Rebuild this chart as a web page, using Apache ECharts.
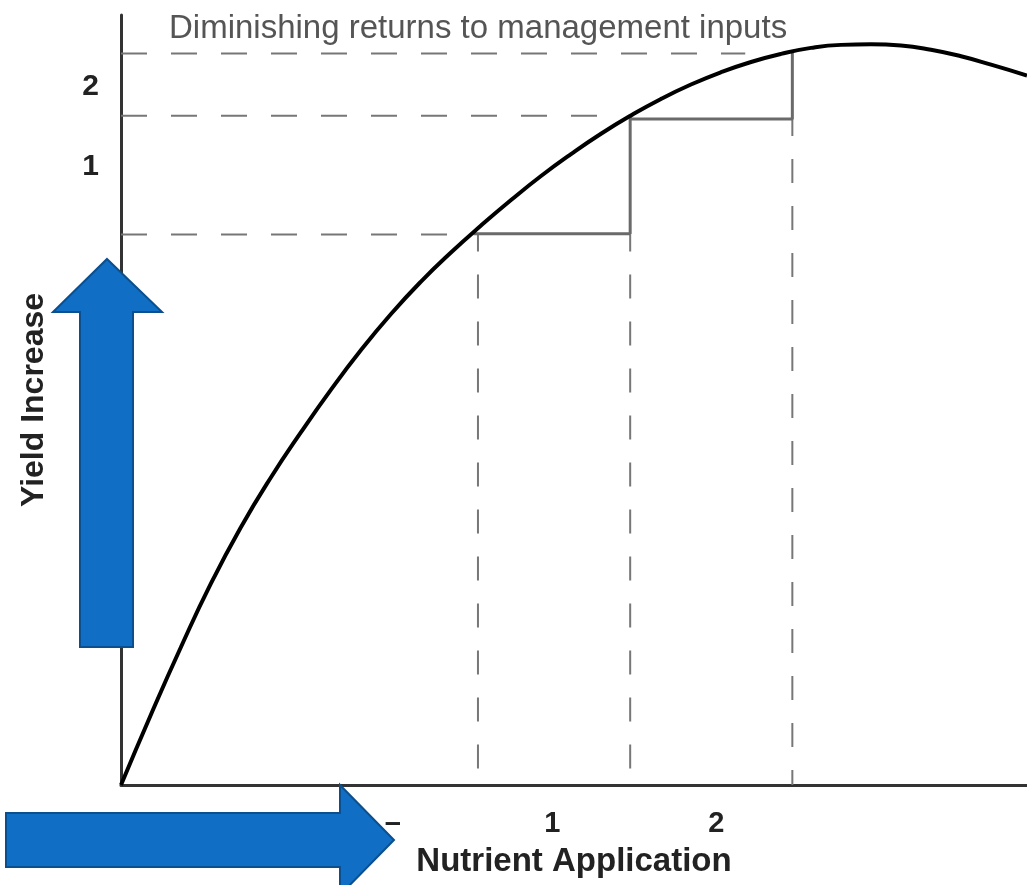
<!DOCTYPE html>
<html>
<head>
<meta charset="utf-8">
<script src="https://cdn.jsdelivr.net/npm/echarts@6/dist/echarts.min.js"></script>
<style>
html,body{margin:0;padding:0;background:#ffffff;}
#chart{width:1027px;height:885px;}
</style>
</head>
<body>
<div id="chart"></div>
<script>
// Response curve (x: nutrient application, y: yield increase)
const curveX = [0, 3.31, 6.62, 9.93, 13.25, 16.56, 19.87, 23.18, 26.49, 29.80, 33.11, 36.42, 39.74, 43.05, 46.36, 49.67, 52.98, 56.29, 59.60, 62.91, 66.23, 69.54, 72.85, 76.16, 79.47, 82.78, 86.09, 89.40, 92.72, 96.03, 100];
const curveY = [0, 9.16, 17.92, 26.18, 33.51, 39.97, 45.82, 51.35, 56.49, 61.17, 65.38, 69.16, 72.66, 75.97, 79.09, 81.94, 84.58, 86.96, 89.10, 90.97, 92.57, 93.90, 94.95, 95.73, 96.12, 96.19, 96.04, 95.49, 94.64, 93.55, 92.14];

// Dashed horizontal yield levels and where they stop
const levelY = [71.5, 86.9, 95.0];
const levelEndX = [36.3, 52.9, 68.9];

// Dashed vertical input levels and their tops
const inputX = [39.4, 56.2, 74.1];
const inputTopY = [71.5, 71.5, 86.5];

// Solid step lines
const stepX = [38.9, 56.2, 56.2, 56.2, 74.1, 74.1];
const stepY = [71.6, 71.6, 87.0, 86.5, 86.5, 95.2];

// Tick labels
const xTickValues = [30.0, 47.6, 65.7];
const xTickLabels = ['\u2013', '1', '2'];
const yTickValues = [80.3, 90.7];
const yTickLabels = ['1', '2'];

const FONT = '"Liberation Sans", Arial, Helvetica, sans-serif';

function nearestLabel(values, labels, v) {
  let best = 0, d = Infinity;
  values.forEach((x, i) => { const dd = Math.abs(x - v); if (dd < d) { d = dd; best = i; } });
  return labels[best];
}

const series = [];
series.push({
  type: 'line', name: 'curve', data: curveX.map((x, i) => [x, curveY[i]]),
  smooth: 0.5, symbol: 'none', silent: true, z: 5,
  lineStyle: { color: '#000000', width: 4 }
});
levelY.forEach((y, i) => {
  series.push({
    type: 'line', data: [[0, y], [levelEndX[i], y]], symbol: 'none', silent: true, z: 3,
    lineStyle: { color: '#777777', width: 2, type: [26, 24] }
  });
});
inputX.forEach((x, i) => {
  series.push({
    type: 'line', data: [[x, inputTopY[i]], [x, 0]], symbol: 'none', silent: true, z: 3,
    lineStyle: { color: '#777777', width: 2, type: [24, 23], dashOffset: 7 }
  });
});
series.push({
  type: 'line', data: stepX.map((x, i) => [x, stepY[i]]), symbol: 'none', silent: true, z: 4,
  lineStyle: { color: '#6a6a6a', width: 3 }
});

const blue = '#106EC4', blueEdge = '#0B4F8E';

const option = {
  backgroundColor: '#ffffff',
  animation: false,
  title: {
    text: 'Diminishing returns to management inputs',
    left: 164, top: 7,
    textStyle: { fontFamily: FONT, fontSize: 33, fontWeight: 'normal', color: '#555555' }
  },
  grid: { left: 121, right: 0, top: 15, bottom: 100, containLabel: false, outerBoundsMode: 'none' },
  xAxis: {
    type: 'value', min: 0, max: 100,
    name: 'Nutrient Application', nameLocation: 'middle', nameGap: 60,
    nameTextStyle: { fontFamily: FONT, fontSize: 33, fontWeight: 'bold', color: '#222222' },
    axisLine: { show: true, lineStyle: { color: '#333333', width: 3 } },
    axisTick: { show: false },
    splitLine: { show: false },
    axisLabel: {
      customValues: xTickValues, margin: 24,
      fontFamily: FONT, fontSize: 29, fontWeight: 'bold', color: '#222222',
      formatter: (v) => nearestLabel(xTickValues, xTickLabels, v)
    }
  },
  yAxis: {
    type: 'value', min: 0, max: 100,
    name: 'Yield Increase', nameLocation: 'middle', nameGap: 71,
    nameTextStyle: { fontFamily: FONT, fontSize: 32, fontWeight: 'bold', color: '#222222' },
    axisLine: { show: true, lineStyle: { color: '#333333', width: 3 } },
    axisTick: { show: false },
    splitLine: { show: false },
    axisLabel: {
      customValues: yTickValues, margin: 22,
      fontFamily: FONT, fontSize: 30, fontWeight: 'bold', color: '#222222',
      formatter: (v) => nearestLabel(yTickValues, yTickLabels, v)
    }
  },
  graphic: [
    {
      type: 'polygon', z: 100,
      shape: { points: [[107, 259], [162, 312], [133, 312], [133, 647], [80, 647], [80, 312], [53, 312]] },
      style: { fill: blue, stroke: blueEdge, lineWidth: 2 }
    },
    {
      type: 'polygon', z: 100,
      shape: { points: [[6, 813], [340, 813], [340, 785], [394, 840], [340, 895], [340, 867], [6, 867]] },
      style: { fill: blue, stroke: blueEdge, lineWidth: 2 }
    }
  ],
  series: series
};

const chart = echarts.init(document.getElementById('chart'), null, { renderer: 'canvas' });
chart.setOption(option);
</script>
</body>
</html>
